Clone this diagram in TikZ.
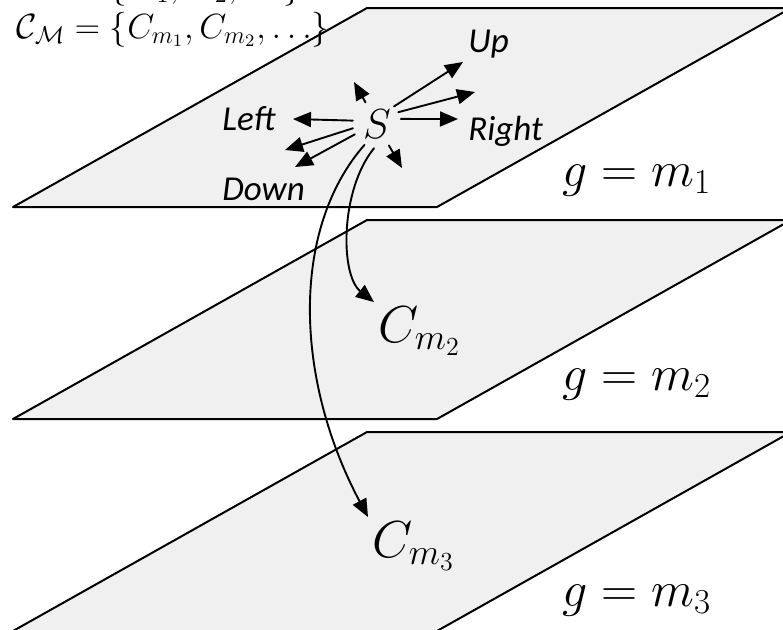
\RequirePackage{fix-cm}
\documentclass[tikz,border=0pt]{standalone}
\usepackage{fontspec}
\newfontfamily\dirfont{Carlito}
\usetikzlibrary{arrows.meta}
\definecolor{plane}{HTML}{F0F0F0}

\begin{document}
\begin{tikzpicture}[
  x=0.5pt, y=-0.5pt,
  line cap=round, line join=round,
  every node/.style={inner sep=0pt},
  plane/.style={fill=plane, draw=black, line width=1pt},
  arr/.style={draw=black, line width=0.95pt, ->, >={Triangle[length=9pt,width=7.5pt]}},
  dir/.style={font=\dirfont\itshape\fontsize{17.5}{20}\selectfont, anchor=base west},
  level/.style={font=\fontsize{25}{29}\selectfont, anchor=base west},
  ctx/.style={font=\fontsize{26}{30}\selectfont, anchor=base west, inner sep=2pt},
  set/.style={font=\fontsize{17.5}{20}\selectfont, anchor=base west},
  state/.style={circle, minimum size=24pt, font=\fontsize{21}{24}\selectfont},
]
\useasboundingbox (0,0) rectangle (783,629);
\clip (0,0) rectangle (783,629);
\foreach \k in {0,1,2}
  \draw[plane] (13,{207+212*\k}) -- (437,{207+212*\k}) -- (791,{8+212*\k}) -- (367,{8+212*\k}) -- cycle;
\node[set] (modes) at (22,-3) {$\mathcal{M} = \{m_1, m_2, \dots\}$};
\node[set] (ctxset) at (16,38) {$\mathcal{C}_{\mathcal{M}} = \{C_{m_1}, C_{m_2}, \dots\}$};
\node[state] (S) at (377,124) {$S$};
\node[dir] (up) at (468,52) {Up};
\node[dir] (right) at (468,140) {Right};
\node[dir] (left) at (222,130) {Left};
\node[dir] (down) at (222,200) {Down};
\node[level] (g1) at (562,186) {$g = m_1$};
\node[level] (g2) at (562,390) {$g = m_2$};
\node[level] (g3) at (562,606) {$g = m_3$};
\node[ctx] (Cm2) at (374,342) {$C_{m_2}$};
\node[ctx] (Cm3) at (368,557) {$C_{m_3}$};
\coordinate (toUpLeft) at (354,82);
\coordinate (toUp) at (463,62);
\coordinate (toUpRight) at (475,92);
\coordinate (toRight) at (458,119);
\coordinate (toLeft) at (293,119);
\coordinate (toDownLeft) at (285,150);
\coordinate (toDown) at (295,167);
\coordinate (toDownRight) at (402,168);
\draw[arr] (S.118) -- (toUpLeft);
\draw[arr] (S.46) -- (toUp);
\draw[arr] (S.29) -- (toUpRight);
\draw[arr] (S.12) -- (toRight);
\draw[arr] (S.172) -- (toLeft);
\draw[arr] (S.190) -- (toDownLeft);
\draw[arr] (S.205) -- (toDown);
\draw[arr] (S.299) -- (toDownRight);
\draw[arr] (S.263) .. controls (340,190) and (340,275) .. (Cm2.north west);
\draw[arr] (S.239) .. controls (290,230) and (295,380) .. (Cm3.north west);
\end{tikzpicture}
\end{document}
